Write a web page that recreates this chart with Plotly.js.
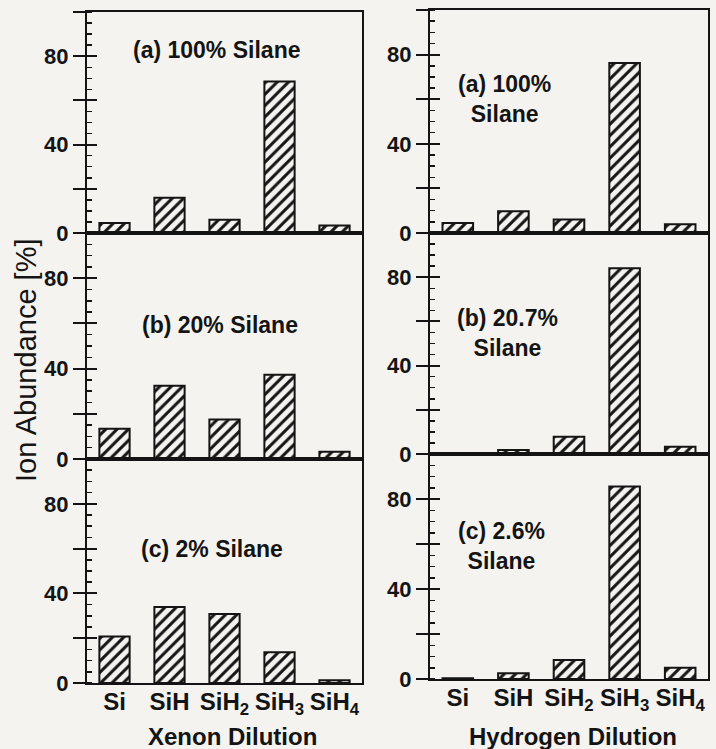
<!DOCTYPE html>
<html>
<head>
<meta charset="utf-8">
<script src="https://cdn.plot.ly/plotly-3.0.1.min.js"></script>
<style>html,body{margin:0;padding:0;background:#f4f3ef;}</style>
</head>
<body>
<div id="chart" style="width:716px;height:749px;"></div>
<script>
// Data
var categories = ['Si', 'SiH', 'SiH<sub>2</sub>', 'SiH<sub>3</sub>', 'SiH<sub>4</sub>'];
var xenon100 = [4.5, 16, 6, 68.5, 3.4];
var xenon20 = [13.4, 32.4, 17.5, 37.3, 3.2];
var xenon2 = [20.8, 33.9, 30.8, 13.7, 1.2];
var hydrogen100 = [4.5, 9.8, 6.1, 76.2, 3.9];
var hydrogen20_7 = [0.5, 1.8, 7.8, 84, 3.3];
var hydrogen2_6 = [0.3, 2.5, 8.4, 85.6, 5];
var yMajorVals = [0, 20, 40, 60, 80];
var panelLabels = ['(a) 100% Silane', '(b) 20% Silane', '(c) 2% Silane',
                   '(a) 100%<br>Silane', '(b) 20.7%<br>Silane', '(c) 2.6%<br>Silane'];
var xTitles = ['Xenon Dilution', 'Hydrogen Dilution'];
var yTitle = 'Ion Abundance [%]';

var series = [xenon100, xenon20, xenon2, hydrogen100, hydrogen20_7, hydrogen2_6];

var W = 716, H = 749;
var BG = '#f4f3ef';
var INK = '#141414';
var FONT = 'Liberation Sans, Arial, sans-serif';

function px(v) { return v / W; }
function py(v) { return 1 - v / H; }

// panel geometry (pixels)
var colX = [[87, 362], [430, 708]];
var rowsY = [
  [[12, 233], [233, 459], [459, 683]],
  [[10, 233], [233, 454], [454, 679]]
];

var traces = [];
var layout = {
  width: W, height: H,
  margin: {l: 0, r: 0, t: 0, b: 0},
  paper_bgcolor: BG,
  plot_bgcolor: BG,
  showlegend: false,
  font: {family: FONT, color: INK, size: 22, weight: 'bold'},
  annotations: []
};

for (var i = 0; i < 6; i++) {
  var col = i < 3 ? 0 : 1;
  var row = i % 3;
  var n = i + 1;
  traces.push({
    type: 'bar',
    x: categories,
    y: series[i],
    xaxis: 'x' + n,
    yaxis: 'y' + n,
    width: 0.55,
    marker: {
      color: BG,
      line: {color: INK, width: 2},
      pattern: {shape: '/', size: 8, solidity: 0.38, fgcolor: INK, bgcolor: BG}
    },
    hoverinfo: 'x+y'
  });
  var yr = rowsY[col][row];
  layout['xaxis' + n] = {
    domain: [px(colX[col][0]), px(colX[col][1])],
    anchor: 'y' + n,
    type: 'category',
    range: [-0.5, 4.5],
    showline: true, linecolor: INK, linewidth: 2, mirror: true,
    ticks: '', showgrid: false, zeroline: false,
    showticklabels: row === 2,
    ticklabelstandoff: -4,
    tickfont: {size: 24, family: FONT, color: INK, weight: 'bold'},
    fixedrange: true
  };
  layout['yaxis' + n] = {
    domain: [py(yr[1]), py(yr[0])],
    anchor: 'x' + n,
    range: [0, 100],
    showline: true, linecolor: INK, linewidth: 2, mirror: true,
    tickmode: 'linear', tick0: 0, dtick: 20, ticklabelstep: 2,
    ticks: 'outside', ticklen: 12, tickwidth: 2, tickcolor: INK,
    minor: {tickmode: 'linear', tick0: 0, dtick: 5, ticks: 'inside', ticklen: 5, tickwidth: 1.5, tickcolor: INK},
    showgrid: false, zeroline: false,
    tickfont: {size: 22, family: FONT, color: INK, weight: 'bold'},
    fixedrange: true
  };
  // overlay axis: inside part of the major ticks
  var a1 = n + 6;
  layout['yaxis' + a1] = {
    overlaying: 'y' + n, anchor: 'x' + n, range: [0, 100],
    tickmode: 'array', tickvals: yMajorVals,
    ticks: 'inside', ticklen: 10, tickwidth: 2, tickcolor: INK,
    showticklabels: false, showline: false, showgrid: false, zeroline: false,
    fixedrange: true
  };
  traces.push({type: 'scatter', x: [], y: [], xaxis: 'x' + n, yaxis: 'y' + a1, hoverinfo: 'skip'});
}

// panel labels
var labelPos = [[216, 50], [220, 325], [212, 549], [504, 99], [507, 333], [501, 546]];
for (var k = 0; k < 6; k++) {
  layout.annotations.push({
    xref: 'paper', yref: 'paper',
    x: px(labelPos[k][0]), y: py(labelPos[k][1]),
    text: panelLabels[k], showarrow: false,
    xanchor: 'center', yanchor: 'middle', align: 'center',
    font: {size: 23, family: FONT, color: INK, weight: 'bold'}
  });
}
// axis titles
layout.annotations.push({
  xref: 'paper', yref: 'paper', x: px(232), y: py(736), text: xTitles[0],
  showarrow: false, xanchor: 'center', yanchor: 'middle',
  font: {size: 24, family: FONT, color: INK, weight: 'bold'}
});
layout.annotations.push({
  xref: 'paper', yref: 'paper', x: px(573), y: py(736), text: xTitles[1],
  showarrow: false, xanchor: 'center', yanchor: 'middle',
  font: {size: 24, family: FONT, color: INK, weight: 'bold'}
});
layout.annotations.push({
  xref: 'paper', yref: 'paper', x: px(26), y: py(361), text: yTitle,
  showarrow: false, xanchor: 'center', yanchor: 'middle', textangle: -90,
  font: {size: 29, family: FONT, color: INK, weight: 'normal'}
});

Plotly.newPlot('chart', traces, layout, {displayModeBar: false, staticPlot: true});
</script>
</body>
</html>
